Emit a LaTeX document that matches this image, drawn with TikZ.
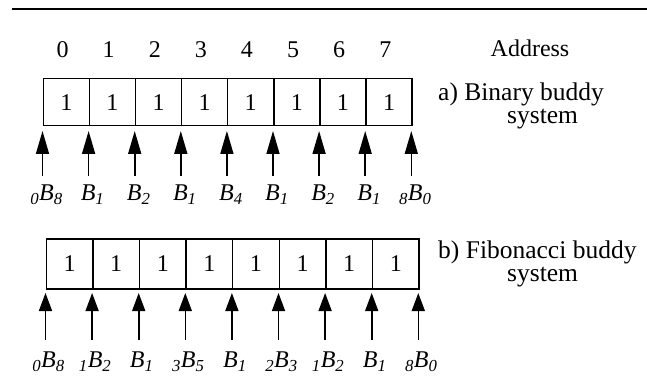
\documentclass[tikz,border=0pt]{standalone}
\usepackage{fontspec}
\setmainfont{Liberation Serif}
\usetikzlibrary{arrows.meta}
\begin{document}
\begin{tikzpicture}[x=1pt,y=-1pt,
  txt/.style={inner sep=0pt,font=\fontsize{24}{23}\selectfont},
  caption/.style={inner sep=0pt,font=\fontsize{25.5}{23}\selectfont,align=left,anchor=west},
  lbl/.style={inner sep=0pt,font=\fontsize{24}{26}\selectfont\itshape},
  cellbox/.style={draw,line width=1.5pt,minimum height=47pt,inner sep=0pt,
    anchor=north west,font=\fontsize{24}{26}\selectfont},
  cella/.style={cellbox,minimum width=46.1pt},
  cellb/.style={cellbox,minimum width=46.6pt,minimum height=50pt},
  ptr/.style={line width=1.6pt},
  ptra/.style={ptr,-{Triangle[length=23pt,width=13pt]}},
  ptrb/.style={ptr,-{Triangle[length=18pt,width=13pt]}}]
\useasboundingbox (0,0) rectangle (647,379);

% rule under the caption
\coordinate (ruleL) at (12,9);
\coordinate (ruleR) at (647,9);
\draw[line width=2pt] (ruleL) -- (ruleR);

% a) binary buddy system
\node[txt] (addr) at (530,48) {Address};
\foreach \i in {1,...,8}{
  \pgfmathtruncatemacro{\n}{\i-1}
  \node[cella] (a\i) at ({42.5+(\i-1)*46.1},78) {1};
  \node[txt] (ad\i) at ({42.5+(\i-0.5)*46.1-3},50) {\n};
}
\node[caption] (capa) at (438,106) {a) Binary buddy\\\hspace*{69pt}system};

\foreach \i/\lab in {
  1/{\textsubscript{0}B\textsubscript{8}},
  2/{B\textsubscript{1}},
  3/{B\textsubscript{2}},
  4/{B\textsubscript{1}},
  5/{B\textsubscript{4}},
  6/{B\textsubscript{1}},
  7/{B\textsubscript{2}},
  8/{B\textsubscript{1}},
  9/{\textsubscript{8}B\textsubscript{0}}}{
  \coordinate (pa\i) at ({42.5+(\i-1)*46.1},131);
  \coordinate (ta\i) at ({42.5+(\i-1)*46.1},176);
  \node[lbl] (la\i) at ({42.5+(\i-1)*46.1+4},195) {\lab};
  \draw[ptra] (ta\i) -- (pa\i);
}

% b) Fibonacci buddy system
\foreach \i in {1,...,8}{
  \node[cellb] (b\i) at ({45.5+(\i-1)*46.6},238) {1};
}
\node[caption] (capb) at (438,264) {b) Fibonacci buddy\\\hspace*{69pt}system};

\foreach \i/\lab in {
  1/{\textsubscript{0}B\textsubscript{8}},
  2/{\textsubscript{1}B\textsubscript{2}},
  3/{B\textsubscript{1}},
  4/{\textsubscript{3}B\textsubscript{5}},
  5/{B\textsubscript{1}},
  6/{\textsubscript{2}B\textsubscript{3}},
  7/{\textsubscript{1}B\textsubscript{2}},
  8/{B\textsubscript{1}},
  9/{\textsubscript{8}B\textsubscript{0}}}{
  \coordinate (pb\i) at ({45.5+(\i-1)*46.6},293);
  \coordinate (tb\i) at ({45.5+(\i-1)*46.6},340);
  \node[lbl] (lb\i) at ({45.5+(\i-1)*46.6+3},362) {\lab};
  \draw[ptrb] (tb\i) -- (pb\i);
}
\end{tikzpicture}
\end{document}
